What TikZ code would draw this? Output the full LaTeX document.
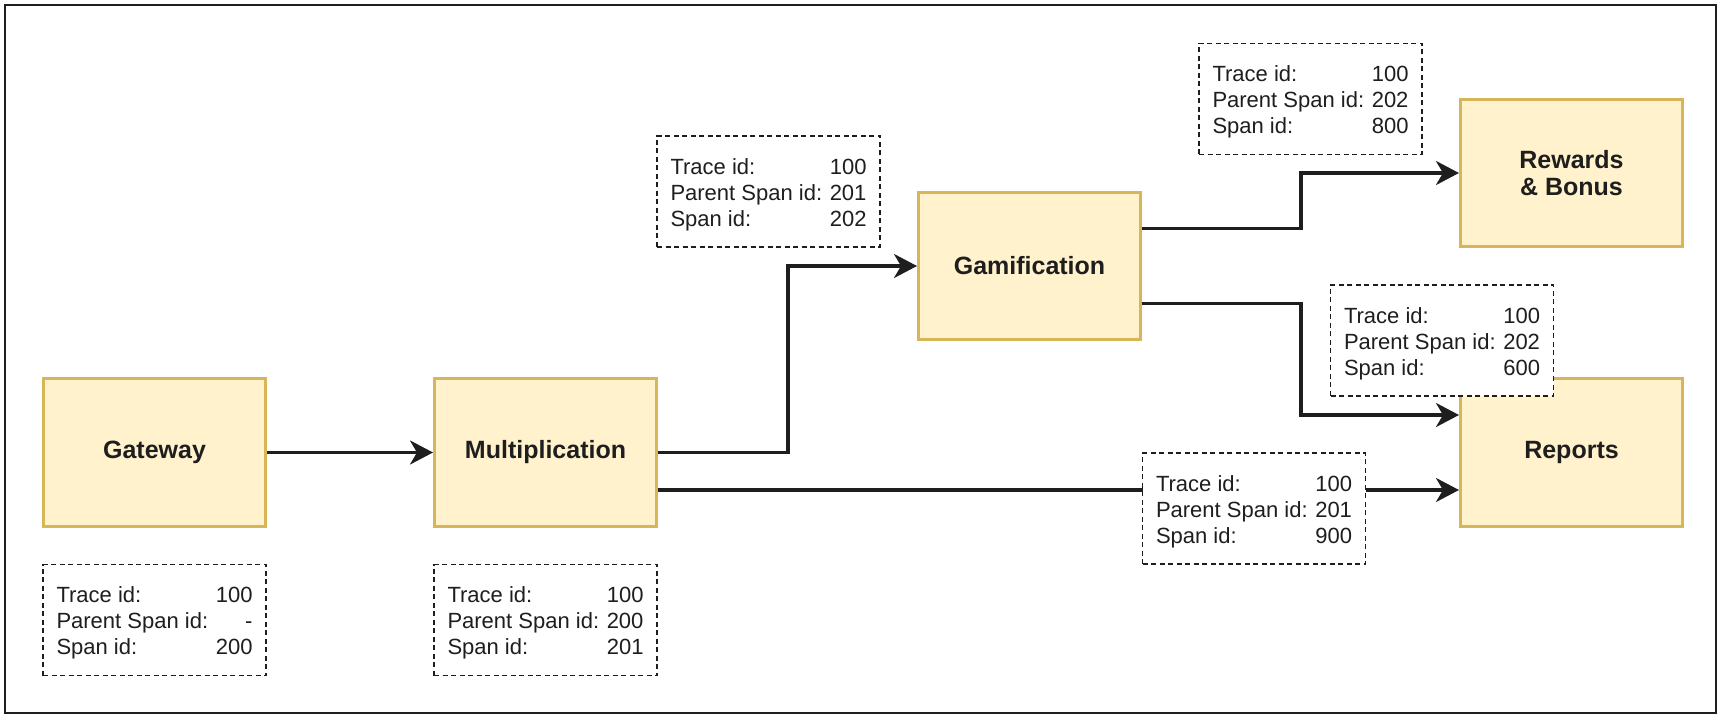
\documentclass[tikz,border=0pt]{standalone}
\usepackage{fontspec}
\setmainfont{Liberation Sans}
\usetikzlibrary{arrows.meta,calc}
\definecolor{svcfill}{HTML}{FFF2CC}
\definecolor{svcdraw}{HTML}{D6B656}
\definecolor{ink}{HTML}{1E1E1E}
\newcommand\lrow[2]{\hbox to 196pt{#1\hfill#2}}
\newcommand\firstrow[2]{\hbox to 196pt{\rule{0pt}{22pt}#1\hfill#2}}
\tikzset{
  svc/.style={draw=svcdraw, fill=svcfill, line width=3pt, minimum width=222pt, minimum height=147pt,
    inner sep=0pt, align=center, text=ink, font=\fontsize{25}{27}\selectfont\bfseries},
  info/.style={draw=ink, fill=white, dashed, dash pattern=on 5pt off 3.5pt, line width=1.8pt,
    minimum width=223pt, minimum height=111pt, inner sep=0pt, align=left, text=ink,
    font=\fontsize{22}{26}\selectfont},
  arr/.style={draw=ink, line width=3.2pt, -{Stealth[length=23pt,width=24pt,inset=7pt]}},
}
\begin{document}
\begin{tikzpicture}[x=1pt,y=-1pt]
\useasboundingbox (0,0) rectangle (1725,719);
\draw[line width=2pt, draw=ink] (5,5) rectangle (1716,713);
% services
\node[svc] (gw)   at (154.5,452.5) {Gateway};
\node[svc] (mult) at (545.5,452.5) {Multiplication};
\node[svc] (gam)  at (1029.5,266)  {Gamification};
\node[svc] (rew)  at (1571.5,173)  {Rewards\\\& Bonus};
\node[svc] (rep)  at (1571.5,452.5) {Reports};
% connectors
\draw[arr] (gw) -- (mult);
\draw[arr] (mult.east) -- ++(130,0) |- (gam.west);
\coordinate (m2) at ($(mult.south east)!0.25!(mult.north east)$);
\draw[arr] (m2) -- (m2 -| rep.west);
\coordinate (g1) at ($(gam.north east)!0.25!(gam.south east)$);
\coordinate (g2) at ($(gam.north east)!0.75!(gam.south east)$);
\coordinate (r2) at ($(rep.north west)!0.25!(rep.south west)$);
\draw[arr] (g1) -- ++(159,0) |- (rew.west);
\draw[arr] (g2) -- ++(159,0) |- (r2);
% span info
\node[info] (gwl)  at (154.5,620) {\firstrow{Trace id:}{100}\\\lrow{Parent Span id:}{-}\\\lrow{Span id:}{200}};
\node[info] (mull) at (545.5,620) {\firstrow{Trace id:}{100}\\\lrow{Parent Span id:}{200}\\\lrow{Span id:}{201}};
\node[info] (gaml) at (768.5,191.5) {\firstrow{Trace id:}{100}\\\lrow{Parent Span id:}{201}\\\lrow{Span id:}{202}};
\node[info] (rewl) at (1310.5,99) {\firstrow{Trace id:}{100}\\\lrow{Parent Span id:}{202}\\\lrow{Span id:}{800}};
\node[info] (repl) at (1442,340.5) {\firstrow{Trace id:}{100}\\\lrow{Parent Span id:}{202}\\\lrow{Span id:}{600}};
\node[info] (rep2l) at (1254,508.5) {\firstrow{Trace id:}{100}\\\lrow{Parent Span id:}{201}\\\lrow{Span id:}{900}};
\end{tikzpicture}
\end{document}
